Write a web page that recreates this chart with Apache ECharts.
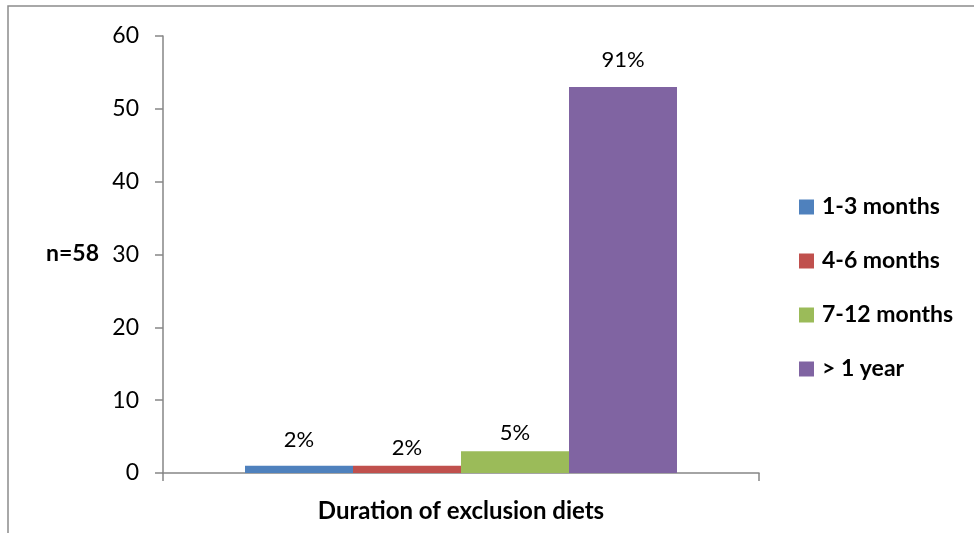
<!DOCTYPE html>
<html>
<head>
<meta charset="utf-8">
<script src="https://cdn.jsdelivr.net/npm/echarts@6/dist/echarts.min.js"></script>
<style>
  html, body { margin: 0; padding: 0; background: #fff; }
  #chart { width: 974px; height: 533px; }
</style>
</head>
<body>
<div id="chart"></div>
<script>
// Duration of exclusion diets, number of patients per group (n = 58)
const categories = ['Duration of exclusion diets'];
const seriesNames = ['1-3 months', '4-6 months', '7-12 months', '> 1 year'];
const counts1to3 = [1];
const counts4to6 = [1];
const counts7to12 = [3];
const countsOver1y = [53];
const yTicks = [0, 10, 20, 30, 40, 50, 60];

const total = 58;
const colors = ['#4F81BD', '#C0504D', '#9BBB59', '#8064A2'];
const labelDistances = [15, 7, 7, 16];
const FONT = 'Lato, "Open Sans", sans-serif';

const seriesData = [counts1to3, counts4to6, counts7to12, countsOver1y];

const chart = echarts.init(document.getElementById('chart'));
chart.setOption({
  animation: false,
  textStyle: { fontFamily: FONT },
  grid: { left: 163, right: 215, top: 36, bottom: 60, containLabel: false },
  legend: {
    orient: 'vertical',
    left: 794,
    top: 190,
    itemWidth: 15,
    itemHeight: 15,
    itemGap: 30,
    icon: 'rect',
    data: seriesNames,
    textStyle: { fontFamily: FONT, fontSize: 23, fontWeight: 'bold', color: '#000', lineHeight: 24, padding: [0, 0, 0, 3] }
  },
  xAxis: {
    type: 'category',
    data: categories,
    axisLine: { lineStyle: { color: '#868686', width: 1.5 } },
    axisTick: { show: true, length: 8, alignWithLabel: false, lineStyle: { color: '#868686', width: 1.5 } },
    axisLabel: { margin: 26, fontFamily: FONT, fontSize: 24, fontWeight: 'bold', color: '#000' }
  },
  yAxis: {
    type: 'value',
    min: yTicks[0],
    max: yTicks[yTicks.length - 1],
    interval: 10,
    splitLine: { show: false },
    axisLine: { show: true, lineStyle: { color: '#868686', width: 1.5 } },
    axisTick: { show: true, length: 8, lineStyle: { color: '#868686', width: 1.5 } },
    axisLabel: { margin: 24, fontFamily: FONT, fontSize: 23, color: '#000' }
  },
  graphic: [
    {
      type: 'rect',
      shape: { x: 8, y: 6, width: 1000, height: 600 },
      style: { fill: 'none', stroke: '#8c8c8c', lineWidth: 1.5 },
      silent: true
    },
    {
      type: 'text',
      left: 46,
      top: 242,
      style: { text: 'n=58', font: 'bold 23px ' + FONT, fill: '#000' }
    }
  ],
  series: seriesData.map((d, i) => ({
    name: seriesNames[i],
    type: 'bar',
    data: d,
    barWidth: 108,
    barGap: '0%',
    itemStyle: { color: colors[i] },
    label: {
      show: true,
      position: 'top',
      distance: labelDistances[i],
      fontFamily: FONT,
      fontSize: 22,
      color: '#000',
      formatter: p => Math.round(p.value / total * 100) + '%'
    }
  }))
});
</script>
</body>
</html>
